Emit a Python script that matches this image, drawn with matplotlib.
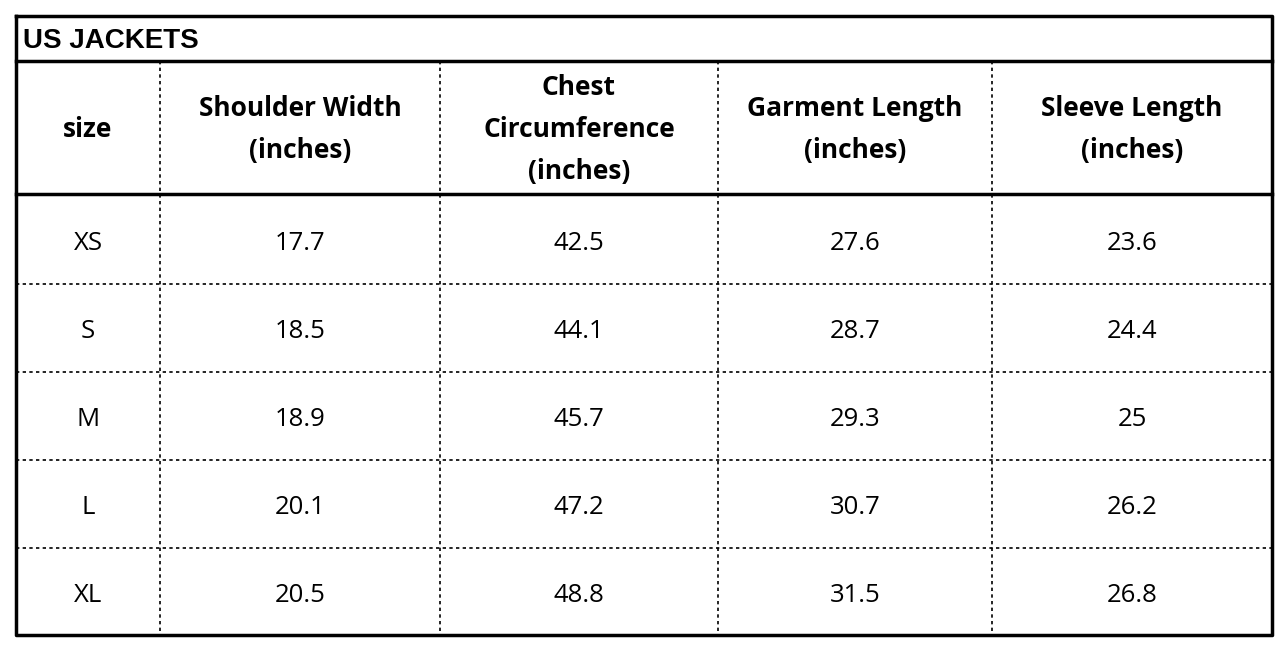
import matplotlib
matplotlib.use("Agg")
import matplotlib.pyplot as plt

title = "US JACKETS"
headers = ["size", "Shoulder Width\n(inches)", "Chest\nCircumference\n(inches)",
           "Garment Length\n(inches)", "Sleeve Length\n(inches)"]
sizes = ["XS", "S", "M", "L", "XL"]
shoulder = ["17.7", "18.5", "18.9", "20.1", "20.5"]
chest = ["42.5", "44.1", "45.7", "47.2", "48.8"]
garment = ["27.6", "28.7", "29.3", "30.7", "31.5"]
sleeve = ["23.6", "24.4", "25", "26.2", "26.8"]

W, H = 1288, 652
fig = plt.figure(figsize=(W/100, H/100), dpi=100)
ax = fig.add_axes([0, 0, 1, 1])
ax.set_xlim(0, W); ax.set_ylim(H, 0); ax.axis("off")

L, R, T, B = 16, 1272, 16, 635
title_b, head_b = 61, 194
col_x = [L, 160, 440, 718, 992, R]
row_y = [head_b, 284, 372, 460, 548, B]

ax.plot([L, R, R, L, L], [T, T, B, B, T], color="black", lw=2.5)
ax.plot([L, R], [title_b, title_b], color="black", lw=2.5)
ax.plot([L, R], [head_b, head_b], color="black", lw=2.5)
for x in col_x[1:-1]:
    ax.plot([x, x], [title_b, B], color="black", lw=1.2, ls=(0, (2, 2)))
for y in row_y[1:-1]:
    ax.plot([L, R], [y, y], color="black", lw=1.2, ls=(0, (2, 2)))

ax.text(23, (T + title_b)/2 + 3, title, fontsize=20, fontweight="heavy",
        family="Liberation Sans", va="center", ha="left")

cx = [(col_x[i] + col_x[i+1])/2 for i in range(5)]
for i, h in enumerate(headers):
    ax.text(cx[i], (title_b + head_b)/2 + 2, h, fontsize=19, fontweight="bold",
            family="Open Sans", ha="center", va="center", linespacing=1.7)

cols = [sizes, shoulder, chest, garment, sleeve]
for r in range(5):
    cy = (row_y[r] + row_y[r+1])/2 + 4
    for c in range(5):
        ax.text(cx[c], cy, cols[c][r], fontsize=18.5, family="Open Sans",
                ha="center", va="center")

fig.savefig("out.png", dpi=100)
